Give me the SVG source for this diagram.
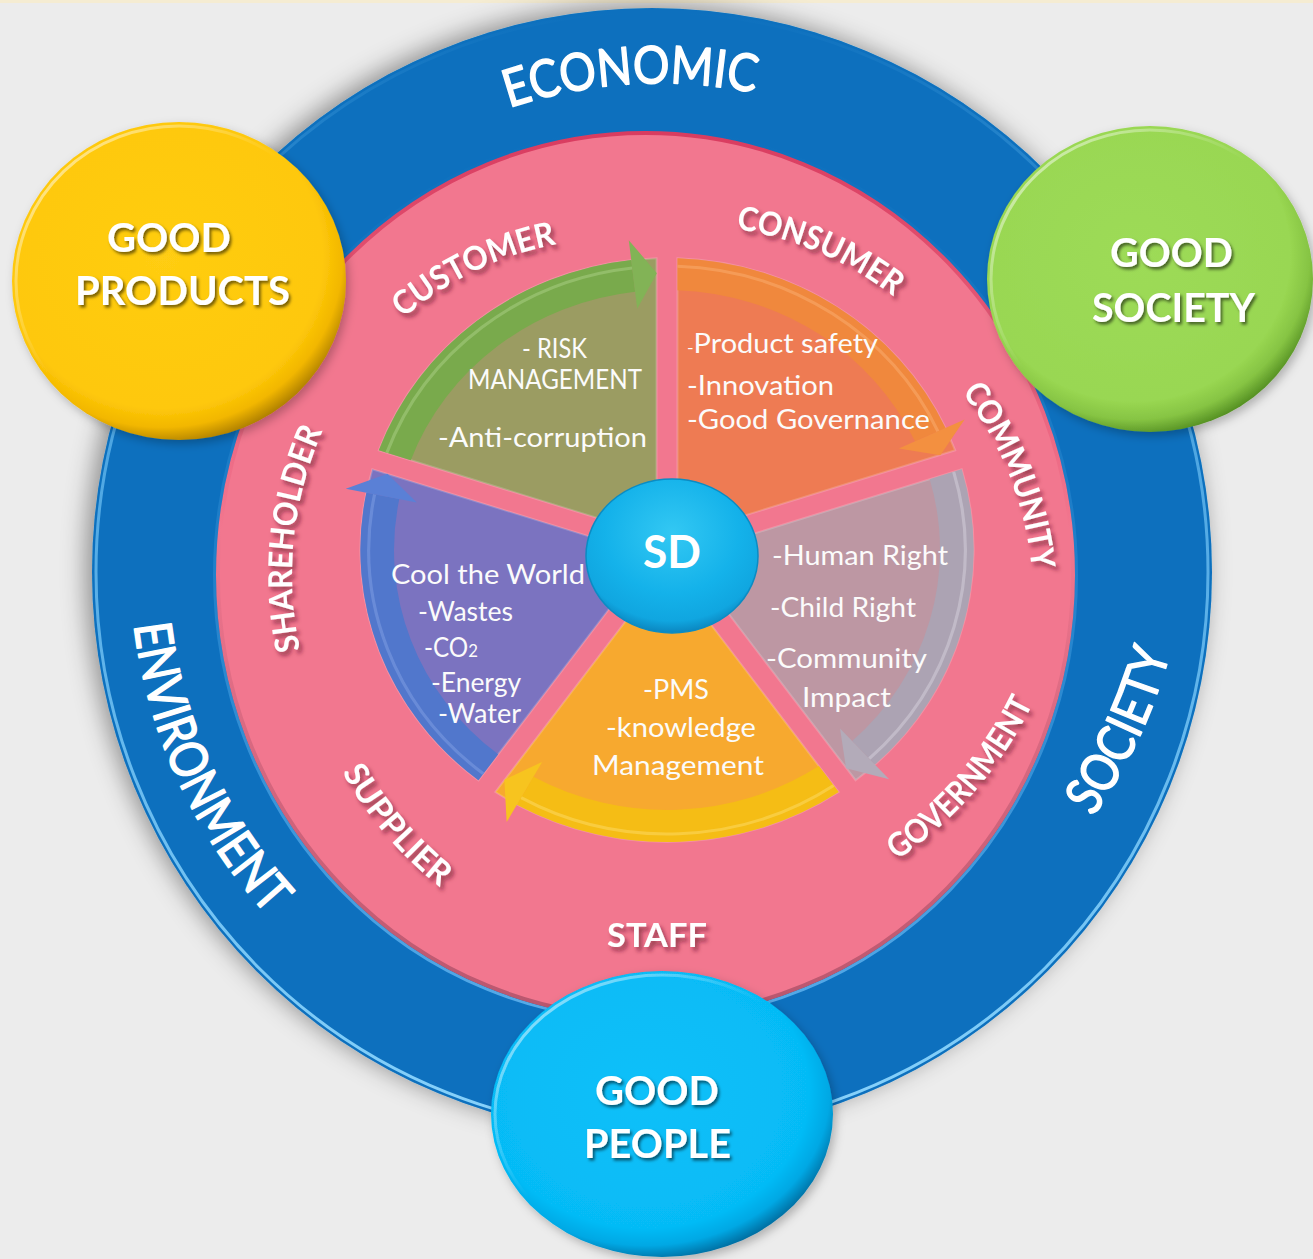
<svg xmlns="http://www.w3.org/2000/svg" width="1313" height="1259" viewBox="0 0 1313 1259">
<defs>
<style>
.t{font-family:Lato,'Open Sans','Liberation Sans',sans-serif;fill:#ffffff}
.body{font-size:26px;fill:#fbfbfb}
.lbl{font-size:33px;font-weight:700;filter:url(#lblSh)}
.outer{font-size:52px;stroke:#ffffff;stroke-width:1.5;stroke-linejoin:round}
.bub{font-size:40px;font-weight:700;filter:url(#bubSh)}
.hl{fill:none;stroke-width:3;opacity:.55}
.wedge{stroke:#ffffff;stroke-opacity:.18;stroke-width:2}
</style>
<filter id="ringSh" x="-10%" y="-10%" width="120%" height="120%">
<feDropShadow dx="-6" dy="-3" stdDeviation="12" flood-color="#000000" flood-opacity="0.4"/>
</filter>
<filter id="lblSh" x="-20%" y="-30%" width="140%" height="160%">
<feDropShadow dx="3" dy="4" stdDeviation="2" flood-color="#5e1326" flood-opacity="0.6"/>
</filter>
<filter id="bubSh" x="-10%" y="-20%" width="120%" height="150%">
<feDropShadow dx="2" dy="2.5" stdDeviation="1.5" flood-color="#000000" flood-opacity="0.55"/>
</filter>
<filter id="bubbleSh" x="-10%" y="-10%" width="125%" height="125%">
<feDropShadow dx="3" dy="4" stdDeviation="5" flood-color="#000000" flood-opacity="0.25"/>
</filter>
<radialGradient id="gY" cx="45%" cy="42%" r="60%">
<stop offset="0" stop-color="#ffcd12"/><stop offset=".8" stop-color="#fec80a"/><stop offset=".9" stop-color="#f2b700"/><stop offset="1" stop-color="#a87a00"/>
</radialGradient>
<radialGradient id="gG" cx="45%" cy="42%" r="60%">
<stop offset="0" stop-color="#9ddb58"/><stop offset=".8" stop-color="#99d752"/><stop offset=".9" stop-color="#86c443"/><stop offset="1" stop-color="#4f8a1f"/>
</radialGradient>
<radialGradient id="gC" cx="45%" cy="42%" r="60%">
<stop offset="0" stop-color="#0cc0f9"/><stop offset=".8" stop-color="#06bbf6"/><stop offset=".9" stop-color="#04a8e4"/><stop offset="1" stop-color="#03689a"/>
</radialGradient>
<radialGradient id="gSD" cx="50%" cy="35%" r="65%">
<stop offset="0" stop-color="#33c8f3"/><stop offset=".6" stop-color="#14b2ea"/><stop offset=".88" stop-color="#10a6e0"/><stop offset="1" stop-color="#0b86bf"/>
</radialGradient>
<linearGradient id="hlTL" x1="0" y1="0" x2="1" y2="1">
<stop offset="0" stop-color="#ffffff" stop-opacity=".7"/><stop offset=".45" stop-color="#ffffff" stop-opacity="0"/>
</linearGradient>
<linearGradient id="blueRim" x1="0" y1="0" x2="0" y2="1">
<stop offset="0" stop-color="#7fd0ff" stop-opacity="0"/><stop offset=".3" stop-color="#7fd0ff" stop-opacity=".5"/><stop offset="1" stop-color="#8fd8ff" stop-opacity=".95"/>
</linearGradient>
<linearGradient id="pinkRim" x1="0" y1="0" x2="0" y2="1">
<stop offset="0" stop-color="#d93c60"/><stop offset=".45" stop-color="#f2778f"/><stop offset="1" stop-color="#b8566e"/>
</linearGradient>
<linearGradient id="pinkOuter" x1="0" y1="0" x2="0" y2="1">
<stop offset="0" stop-color="#4ea6e6" stop-opacity="0"/><stop offset=".5" stop-color="#4ea6e6" stop-opacity=".3"/><stop offset="1" stop-color="#5fb2ee" stop-opacity=".9"/>
</linearGradient>
<path id="wedge" d="M9.99 -13.75 L9.99 -291.83 A292 292 0 0 1 274.45 -99.69 Z"/>
<path id="band" d="M9.99 -291.83 A292 292 0 0 1 265.28 -122.03 L236.21 -108.65 A260 260 0 0 0 9.99 -259.81 Z"/>
<path id="bandHl" d="M9.99 -283.82 A284 284 0 0 1 258.02 -118.68"/>
<path id="arrowHead" d="M283.45 -130.38 L260.30 -94.74 L220.77 -101.55 Z"/>
<path id="pEco" d="M509 108 A476 476 0 0 1 755 93"/>
<path id="pEnv" d="M134 625 A522 522 0 0 0 268 916"/>
<path id="pSoc" d="M1093 817 A520 520 0 0 0 1170 653"/>
<path id="pCust" d="M403 318 A335 335 0 0 1 557 244"/>
<path id="pCons" d="M736 229 A340 340 0 0 1 893 296"/>
<path id="pComm" d="M962 392 A350 350 0 0 1 1032 570"/>
<path id="pShare" d="M300 650 A355 355 0 0 1 323 430"/>
<path id="pSupp" d="M342 772 A385 385 0 0 0 440 887"/>
<path id="pGov" d="M897 860 A400 400 0 0 0 1033 703"/>
</defs>

<rect x="0" y="0" width="1313" height="1259" fill="#ececec"/>
<rect x="0" y="0" width="1313" height="3" fill="#f5ecd2"/>

<g id="ring-outer">
<ellipse cx="652" cy="572" rx="560" ry="564" fill="#0870be" filter="url(#ringSh)"/>
<ellipse cx="652" cy="572" rx="556" ry="560" fill="none" stroke="url(#blueRim)" stroke-width="3"/>
<text class="t outer"><textPath href="#pEco" textLength="249" lengthAdjust="spacingAndGlyphs">ECONOMIC</textPath></text>
<text class="t outer"><textPath href="#pEnv" textLength="325" lengthAdjust="spacingAndGlyphs">ENVIRONMENT</textPath></text>
<text class="t outer"><textPath href="#pSoc" textLength="182" lengthAdjust="spacingAndGlyphs">SOCIETY</textPath></text>
</g>

<g id="ring-stakeholders">
<ellipse cx="645.5" cy="575" rx="431" ry="445.5" fill="none" stroke="url(#pinkOuter)" stroke-width="3"/>
<ellipse cx="645.5" cy="575" rx="427.5" ry="442" fill="#f2778f" stroke="url(#pinkRim)" stroke-width="4"/>
<text class="t lbl"><textPath href="#pCust" textLength="172" lengthAdjust="spacingAndGlyphs">CUSTOMER</textPath></text>
<text class="t lbl"><textPath href="#pCons" textLength="173" lengthAdjust="spacingAndGlyphs">CONSUMER</textPath></text>
<text class="t lbl"><textPath href="#pComm" textLength="193" lengthAdjust="spacingAndGlyphs">COMMUNITY</textPath></text>
<text class="t lbl"><textPath href="#pShare" textLength="224" lengthAdjust="spacingAndGlyphs">SHAREHOLDER</textPath></text>
<text class="t lbl"><textPath href="#pSupp" textLength="152" lengthAdjust="spacingAndGlyphs">SUPPLIER</textPath></text>
<text class="t lbl"><textPath href="#pGov" textLength="210" lengthAdjust="spacingAndGlyphs">GOVERNMENT</textPath></text>
<text class="t lbl" x="607" y="947" textLength="100" lengthAdjust="spacingAndGlyphs">STAFF</text>
</g>

<g id="slice-customer">
<g transform="translate(667 550) scale(1.05 1) rotate(288)">
<use href="#wedge" class="wedge" fill="#9b9c62"/>
<use href="#band" fill="#79aa4c"/>
<use href="#bandHl" class="hl" stroke="#a8cc82"/>
<use href="#arrowHead" fill="#82b356"/>
</g>
<text class="t body" x="522" y="358" font-size="24" textLength="65" lengthAdjust="spacingAndGlyphs">- RISK</text>
<text class="t body" x="468" y="389" font-size="24" textLength="174" lengthAdjust="spacingAndGlyphs">MANAGEMENT</text>
<text class="t body" x="438" y="447" font-size="28" textLength="209" lengthAdjust="spacingAndGlyphs">-Anti-corruption</text>
</g>

<g id="slice-consumer">
<g transform="translate(667 550) scale(1.05 1)">
<use href="#wedge" class="wedge" fill="#ee7b53"/>
<use href="#band" fill="#f0883d"/>
<use href="#bandHl" class="hl" stroke="#f9ac6e"/>
<use href="#arrowHead" fill="#f39040"/>
</g>
<text class="t body" x="687" y="353" textLength="191" lengthAdjust="spacingAndGlyphs"><tspan font-size="16">-</tspan>Product safety</text>
<text class="t body" x="687" y="395" textLength="147" lengthAdjust="spacingAndGlyphs">-Innovation</text>
<text class="t body" x="687" y="429" textLength="243" lengthAdjust="spacingAndGlyphs">-Good Governance</text>
</g>

<g id="slice-community">
<g transform="translate(667 550) scale(1.05 1) rotate(72)">
<use href="#wedge" class="wedge" fill="#bd97a3"/>
<use href="#band" fill="#aca3b3"/>
<use href="#bandHl" class="hl" stroke="#d4cdd9"/>
<use href="#arrowHead" fill="#b3abb9"/>
</g>
<text class="t body" x="772" y="565" textLength="176" lengthAdjust="spacingAndGlyphs">-Human Right</text>
<text class="t body" x="770" y="617" textLength="146" lengthAdjust="spacingAndGlyphs">-Child Right</text>
<text class="t body" x="766" y="668" textLength="161" lengthAdjust="spacingAndGlyphs">-Community</text>
<text class="t body" x="802" y="707" textLength="89" lengthAdjust="spacingAndGlyphs">Impact</text>
</g>

<g id="slice-staff">
<g transform="translate(667 550) scale(1.05 1) rotate(144)">
<use href="#wedge" class="wedge" fill="#f7a92f"/>
<use href="#band" fill="#f5bd15"/>
<use href="#bandHl" class="hl" stroke="#fcd862"/>
<use href="#arrowHead" fill="#f7c41f"/>
</g>
<text class="t body" x="643" y="699" textLength="66" lengthAdjust="spacingAndGlyphs">-PMS</text>
<text class="t body" x="606" y="737" textLength="150" lengthAdjust="spacingAndGlyphs">-knowledge</text>
<text class="t body" x="592" y="775" textLength="172" lengthAdjust="spacingAndGlyphs">Management</text>
</g>

<g id="slice-environment">
<g transform="translate(667 550) scale(1.05 1) rotate(216)">
<use href="#wedge" class="wedge" fill="#7b73c0"/>
<use href="#band" fill="#5177cc"/>
<use href="#bandHl" class="hl" stroke="#7e9ce2"/>
<use href="#arrowHead" fill="#5a80d6"/>
</g>
<text class="t body" x="391" y="584" font-size="27" textLength="194" lengthAdjust="spacingAndGlyphs">Cool the World</text>
<text class="t body" x="418" y="621" textLength="95" lengthAdjust="spacingAndGlyphs">-Wastes</text>
<text class="t body" x="424" y="657" textLength="54" lengthAdjust="spacingAndGlyphs">-CO<tspan font-size="18">2</tspan></text>
<text class="t body" x="431" y="692" textLength="90" lengthAdjust="spacingAndGlyphs">-Energy</text>
<text class="t body" x="438" y="723" textLength="83" lengthAdjust="spacingAndGlyphs">-Water</text>
</g>

<g id="node-sd">
<ellipse cx="672" cy="556" rx="86" ry="77" fill="url(#gSD)" stroke="#0a8cc4" stroke-width="1.5"/>
<text class="t" x="643" y="568" font-size="46" font-weight="700" textLength="58" lengthAdjust="spacingAndGlyphs">SD</text>
</g>

<g id="node-good-products">
<ellipse cx="179" cy="281" rx="167" ry="159" fill="url(#gY)" filter="url(#bubbleSh)"/>
<ellipse cx="179" cy="281" rx="163" ry="155" fill="none" stroke="url(#hlTL)" stroke-width="3"/>
<text class="t bub" x="107" y="252" textLength="124" lengthAdjust="spacingAndGlyphs">GOOD</text>
<text class="t bub" x="75" y="305" textLength="215" lengthAdjust="spacingAndGlyphs">PRODUCTS</text>
</g>

<g id="node-good-society">
<ellipse cx="1150" cy="279" rx="163" ry="153" fill="url(#gG)" filter="url(#bubbleSh)"/>
<ellipse cx="1150" cy="279" rx="159" ry="149" fill="none" stroke="url(#hlTL)" stroke-width="3"/>
<text class="t bub" x="1110" y="267" textLength="123" lengthAdjust="spacingAndGlyphs">GOOD</text>
<text class="t bub" x="1092" y="322" textLength="163" lengthAdjust="spacingAndGlyphs">SOCIETY</text>
</g>

<g id="node-good-people">
<ellipse cx="662" cy="1114" rx="171" ry="143" fill="url(#gC)" filter="url(#bubbleSh)"/>
<ellipse cx="662" cy="1114" rx="167" ry="139" fill="none" stroke="url(#hlTL)" stroke-width="3"/>
<text class="t bub" x="595" y="1105" textLength="124" lengthAdjust="spacingAndGlyphs">GOOD</text>
<text class="t bub" x="584" y="1158" textLength="147" lengthAdjust="spacingAndGlyphs">PEOPLE</text>
</g>
</svg>
